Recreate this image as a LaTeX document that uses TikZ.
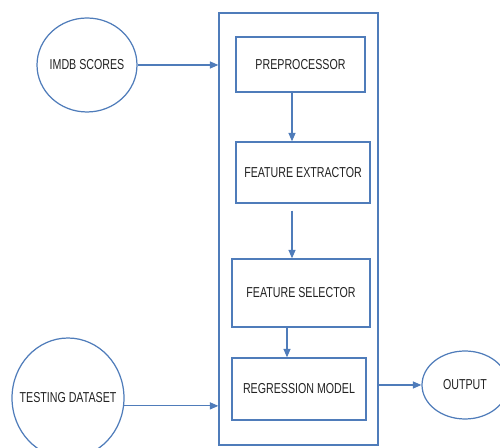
\documentclass[tikz,border=0pt]{standalone}
\usepackage{fontspec}
\setmainfont[FakeStretch=0.74]{Liberation Sans}
\usetikzlibrary{arrows.meta,shapes.geometric}
\definecolor{lineblue}{RGB}{79,124,186}
\definecolor{txt}{RGB}{34,34,34}
\newcommand{\inner}[1]{\makebox[0pt][c]{#1}}
\tikzset{
    stage/.style={draw=lineblue, line width=0.7pt, rectangle, align=center, text=txt, font=\fontsize{8.2}{10}\selectfont},
    source/.style={draw=lineblue, line width=0.7pt, ellipse, inner sep=0pt, text=txt, font=\fontsize{8.2}{10}\selectfont},
    flow/.style={draw=lineblue, line width=0.7pt, -{Triangle[length=0.17cm, width=0.14cm]}}
}
\begin{document}
\begin{tikzpicture}[x=0.02cm, y=-0.02cm]
    \useasboundingbox (0,0) rectangle (500,448);
    % Outer block
    \node[stage, minimum width=3.18cm, minimum height=8.64cm] (pipe) at (298.5,229) {};

    % Stages
    \node[stage, minimum width=2.58cm, minimum height=1.10cm] (prep) at (300.5,64.5) {PREPROCESSOR};
    \node[stage, minimum width=2.68cm, minimum height=1.22cm] (extr) at (303,172.5) {FEATURE EXTRACTOR};
    \node[stage, minimum width=2.76cm, minimum height=1.36cm] (sel) at (301,293) {FEATURE SELECTOR};
    \node[stage, minimum width=2.68cm, minimum height=1.24cm] (reg) at (299,389) {REGRESSION MODEL};

    % Inputs and output
    \node[source, minimum width=2.00cm, minimum height=1.88cm] (imdb) at (87,65) {\inner{IMDB SCORES}};
    \node[source, minimum width=2.24cm, minimum height=2.40cm] (test) at (68,398) {\inner{TESTING DATASET}};
    \node[source, minimum width=1.72cm, minimum height=1.36cm] (out) at (465,385) {\inner{OUTPUT}};

    % Arrow columns
    \coordinate (c1) at (292,0);
    \coordinate (c2) at (287,0);

    % Connections
    \draw[flow] (imdb.east) -- (imdb.east -| pipe.west);
    \draw[flow] (test.-8) -- (test.-8 -| pipe.west);
    \draw[flow] (prep.south -| c1) -- (extr.north -| c1);
    \draw[flow, shorten <=0.14cm] (extr.south -| c1) -- (sel.north -| c1);
    \draw[flow] (sel.south -| c2) -- (reg.north -| c2);
    \draw[flow] (out.west -| pipe.east) -- (out.west);
\end{tikzpicture}
\end{document}
